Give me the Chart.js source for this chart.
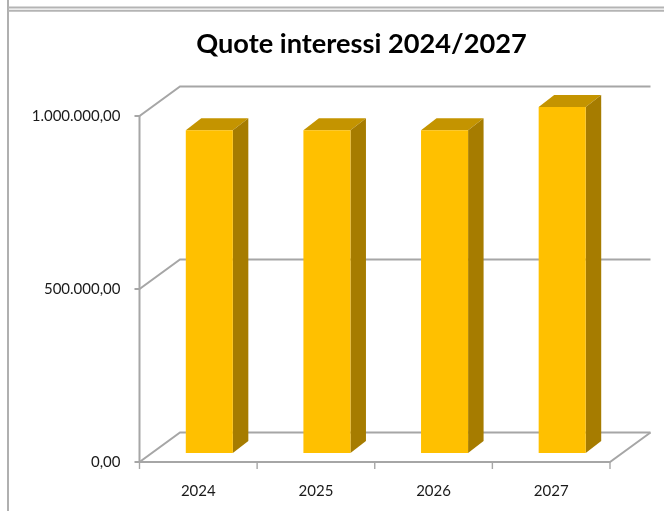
<!DOCTYPE html>
<html><head><meta charset="utf-8">
<style>html,body{margin:0;padding:0;background:#fff;overflow:hidden}#w{width:664px;height:511px;position:relative}</style>
<script src="https://cdn.jsdelivr.net/npm/chart.js@4"></script>
</head><body><div id="w"><canvas id="c"></canvas></div>
<script>
const titleText = "Quote interessi 2024/2027";
const categories = ["2024","2025","2026","2027"];
const quoteValues = [933000, 933000, 933000, 1000000];
const tickValues = [0, 500000, 1000000];
const tickLabels = ["0,00","500.000,00","1.000.000,00"];

const GRID = "#a6a6a6", FRONT = "#ffc000", TOP = "#c49400", SIDE = "#a67c00";
const frontDX = -11, frontDY = 9;     // front plane relative to the bars' plane
const wallDX = 40.5, wallDY = -29.5;  // back wall relative to the front plane
const barDX = 15.5, barDY = -12;      // bar depth

const threeD = {
  id: "threeD",
  afterLayout(chart) { chart.scales.y.left = 0; },   // room for the long tick labels
  beforeDatasetsDraw(chart) {
    const {ctx, scales: {x, y}, chartArea: a} = chart;
    const L = a.left + frontDX, R = a.right + frontDX;
    const line = (pts, w = 2, c = GRID) => {
      ctx.beginPath(); pts.forEach((p, i) => i ? ctx.lineTo(p[0], p[1]) : ctx.moveTo(p[0], p[1]));
      ctx.lineWidth = w; ctx.strokeStyle = c; ctx.stroke();
    };
    ctx.save();
    // sheet frame
    line([[8, 0], [8, 511]], 2, "#b0b0b0");
    line([[8, 7.5], [664, 7.5]], 2, "#b4b4b4");
    line([[8, 10.8], [664, 10.8]], 2, "#b4b4b4");
    const y0 = y.getPixelForValue(0) + frontDY;
    const y1 = y.getPixelForValue(tickValues[tickValues.length - 1]) + frontDY;
    tickValues.forEach(v => {
      const p = y.getPixelForValue(v) + frontDY;
      line([[L - 5, p], [L, p], [L + wallDX, p + wallDY], [R + wallDX, p + wallDY]]);
    });
    line([[L, y1], [L, y0]]);
    line([[L, y0], [R, y0], [R + wallDX, y0 + wallDY]]);
    categories.forEach((_, i) => {
      const t = L + (R - L) * i / categories.length;
      line([[t, y0], [t, y0 + 7]], 1.4);
    });
    line([[R, y0], [R, y0 + 7]], 1.4);
    // bar depth faces
    chart.getDatasetMeta(0).data.forEach(b => {
      const l = b.x - b.width / 2, r = b.x + b.width / 2, t = b.y, bt = b.base;
      ctx.fillStyle = TOP;
      ctx.beginPath(); ctx.moveTo(l, t); ctx.lineTo(l + barDX, t + barDY); ctx.lineTo(r + barDX, t + barDY); ctx.lineTo(r, t); ctx.closePath(); ctx.fill();
      ctx.fillStyle = SIDE;
      ctx.beginPath(); ctx.moveTo(r, t); ctx.lineTo(r + barDX, t + barDY); ctx.lineTo(r + barDX, bt + barDY); ctx.lineTo(r, bt); ctx.closePath(); ctx.fill();
    });
    ctx.restore();
  }
};

new Chart(document.getElementById("c"), {
  type: "bar",
  data: { labels: categories, datasets: [{ data: quoteValues, backgroundColor: FRONT, borderWidth: 0, clip: false,
    barPercentage: 1, categoryPercentage: 0.4 }] },
  plugins: [threeD],
  options: {
    responsive: true, maintainAspectRatio: false, animation: false,
    layout: { padding: { left: 102, right: 43, top: 0, bottom: 0 } },
    plugins: {
      legend: { display: false }, tooltip: { enabled: false },
      title: { display: true, text: titleText, color: "#000",
        font: { family: "Lato", size: 27.2, weight: "bold", lineHeight: 1.2 },
        padding: { top: 27.5, bottom: 46.9 } }
    },
    scales: {
      x: {
        grid: { display: false, drawTicks: false }, border: { display: false },
        ticks: { color: "#1a1a1a", labelOffset: frontDX, padding: 29, maxRotation: 0, autoSkip: false,
          font: { family: "Lato", size: 15 } },
        afterFit(s) { s.height = 58; }
      },
      y: {
        min: 0, max: 1000000,
        afterBuildTicks(s) { s.ticks = tickValues.map(v => ({ value: v })); },
        grid: { display: false, drawTicks: false }, border: { display: false },
        ticks: { color: "#1a1a1a", labelOffset: frontDY, padding: 30,
          font: { family: "Lato", size: 15 },
          callback(v) { return tickLabels[tickValues.indexOf(v)]; } },
        afterFit(s) { s.width = 48.5; }
      }
    }
  }
});
</script></body></html>
